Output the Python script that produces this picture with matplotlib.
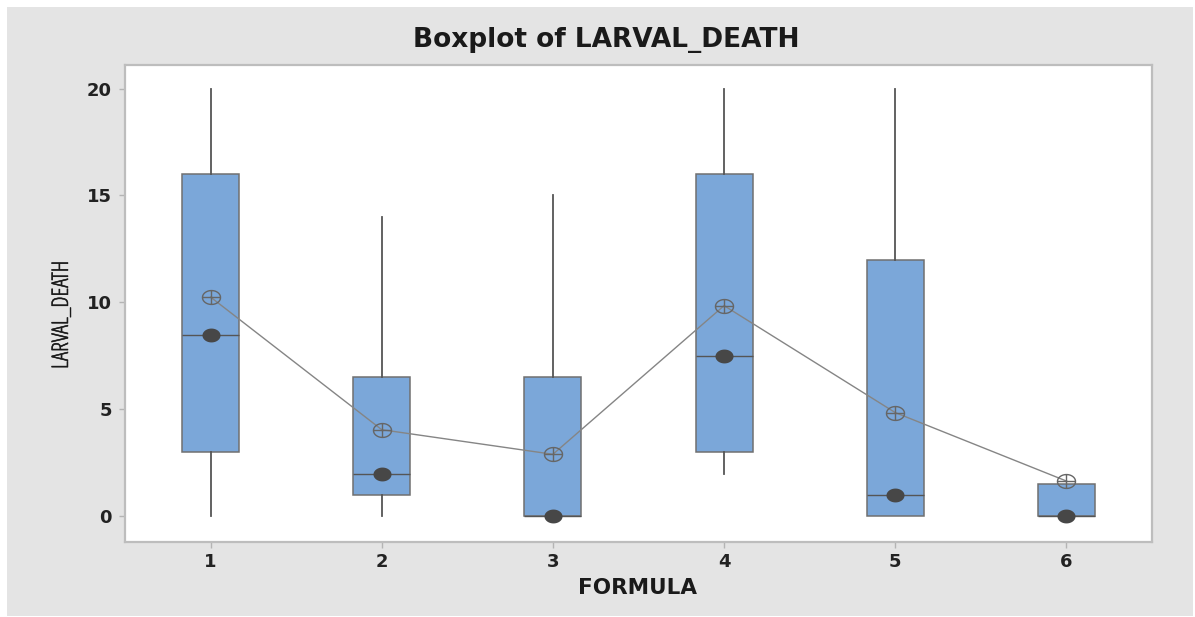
import numpy as np
import matplotlib.pyplot as plt
import matplotlib.patheffects as pe
from matplotlib.patches import Rectangle
from matplotlib.path import Path

# data
formula = [1, 2, 3, 4, 5, 6]
whisk_lo = [0, 0, 0, 2, 0, 0]
q1 = [3, 1, 0, 3, 0, 0]
median = [8.5, 2, 0, 7.5, 1, 0]
q3 = [16, 6.5, 6.5, 16, 12, 1.5]
whisk_hi = [20, 14, 15, 20, 20, 1.5]
mean = [10.25, 4.05, 2.9, 9.85, 4.85, 1.65]

box_color = "#7ba7d9"
edge_color = "#707070"
dark = "#474747"
bold_font = ['DejaVu Sans']

# wide ellipse markers (the source picture is stretched sideways)
t = np.linspace(0, 2 * np.pi, 60)
ell = np.column_stack([1.3 * np.cos(t), np.sin(t)])
median_marker = Path(ell, closed=True)
cross_verts = np.vstack([ell, [[-1.3, 0], [1.3, 0], [0, -1], [0, 1]]])
cross_codes = ([Path.MOVETO] + [Path.LINETO] * (len(ell) - 1)
               + [Path.MOVETO, Path.LINETO, Path.MOVETO, Path.LINETO])
mean_marker = Path(cross_verts, cross_codes)

fig = plt.figure(figsize=(11.95, 6.17), dpi=100)
fig.patch.set_facecolor("white")
fig.patches.append(Rectangle((7 / 1195, 1 / 617), 1186 / 1195, 609 / 617,
                             transform=fig.transFigure, facecolor="#e4e4e4",
                             edgecolor="none", zorder=-10))

ax = fig.add_axes([125 / 1195, 1 - 542 / 617, 1027 / 1195, 477 / 617])
ax.set_facecolor("white")

stats = []
for i in range(len(formula)):
    stats.append(dict(whislo=whisk_lo[i], q1=q1[i], med=median[i],
                      q3=q3[i], whishi=whisk_hi[i], fliers=[]))

ax.bxp(stats, positions=formula, widths=0.333, patch_artist=True,
       showfliers=False, showcaps=False,
       boxprops=dict(facecolor=box_color, edgecolor=edge_color, linewidth=1.1),
       whiskerprops=dict(color="#555555", linewidth=1.3),
       medianprops=dict(color="#555555", linewidth=1.0))

# median symbols
ax.plot(formula, median, linestyle="none", marker=median_marker,
        markersize=13, color=dark, markeredgewidth=0, zorder=4)

# mean connect line and symbols
ax.plot(formula, mean, color="#858585", linewidth=1.0, zorder=3)
ax.plot(formula, mean, linestyle="none", marker=mean_marker, markersize=13,
        markerfacecolor="none", markeredgecolor="#666666",
        markeredgewidth=1.0, zorder=5)

ax.set_xlim(0.5, 6.5)
ax.set_ylim(-1.2, 21.1)
ax.set_yticks([0, 5, 10, 15, 20])
ax.set_xticks(formula)
ax.set_xticklabels([str(f) for f in formula])

for s in ax.spines.values():
    s.set_color("#bdbdbd")
    s.set_linewidth(1.6)
ax.tick_params(length=4, width=1, color="#b4b4b4", labelsize=13,
               labelcolor="#222222")
ax.tick_params(axis="x", pad=4)
ax.tick_params(axis="y", pad=5.5)
for lbl in ax.get_xticklabels() + ax.get_yticklabels():
    lbl.set_fontweight("bold")
    lbl.set_family(bold_font)

fig.text(606 / 1195, 1 - 47 / 617, "Boxplot of LARVAL_DEATH", ha="center",
         va="baseline", fontsize=19, fontweight="bold", family=bold_font,
         color="#1a1a1a")
fig.text(637 / 1195, 1 - 594 / 617, "FORMULA", ha="center", va="baseline",
         fontsize=15.5, fontweight="bold", family=bold_font, color="#1a1a1a")
fig.text(62 / 1195, 1 - 315 / 617, "LARVAL_DEATH", ha="center", va="center",
         rotation=90, fontsize=16.5, family=['Open Sans', 'DejaVu Sans'],
         fontstretch="condensed", color="#1a1a1a",
         path_effects=[pe.withStroke(linewidth=0.35, foreground="#1a1a1a")])

fig.savefig("out.png", dpi=100)
